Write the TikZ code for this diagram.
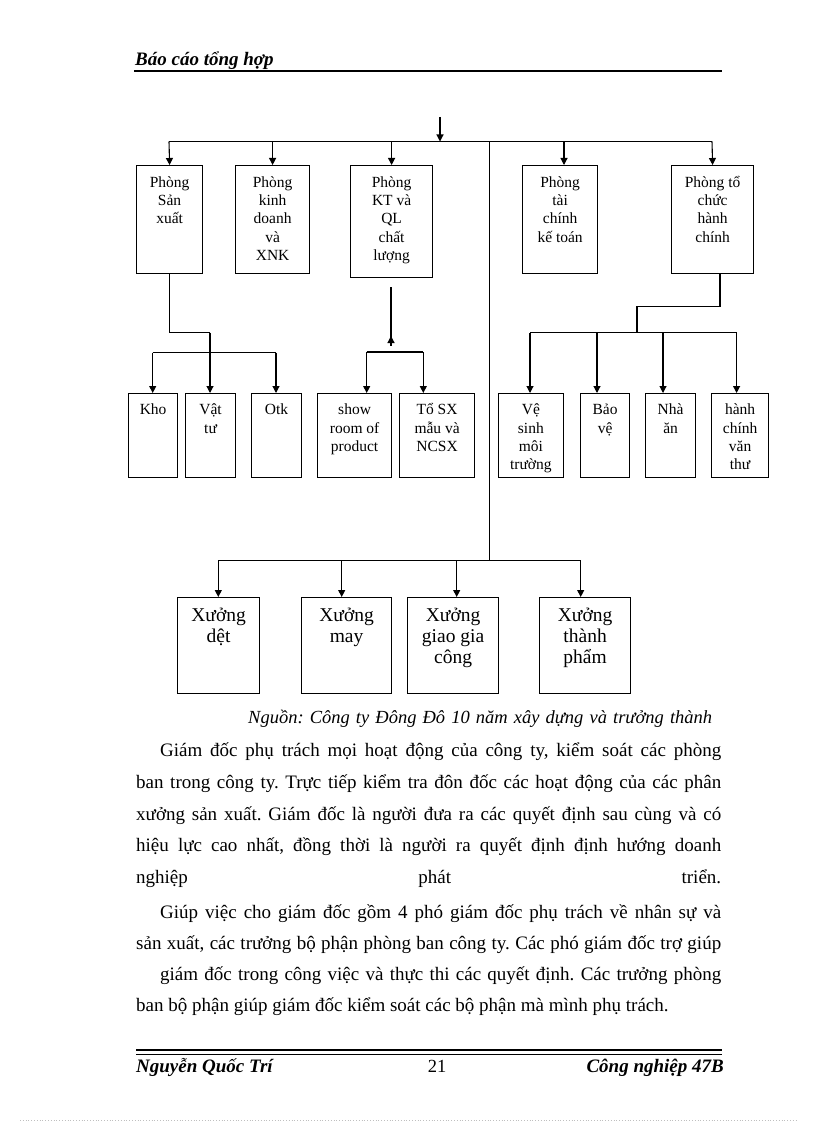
\documentclass[tikz,border=0pt]{standalone}
\usepackage{fontspec}
\setmainfont{Liberation Serif}
\usetikzlibrary{arrows.meta}
\newcommand{\flstrut}{\rule{0pt}{15pt}}
\newcommand{\flstrutbig}{\rule{0pt}{17pt}}
\frenchspacing
\begin{document}
\begin{tikzpicture}[x=1pt,y=-1pt,
  ln/.style={line width=1.1pt},
  arr/.style={line width=1.1pt,-{Triangle[length=7pt,width=7pt]}},
  bx/.style={draw,line width=1.2pt,anchor=north west,inner sep=0pt},
  bt/.style={anchor=north,inner sep=0pt,align=center,font=\fontsize{15.5}{18.3}\selectfont},
  bigt/.style={anchor=north,inner sep=0pt,align=center,font=\fontsize{19.5}{21}\selectfont},
  bl/.style={anchor=base west,inner sep=0pt,font=\fontsize{19}{32}\selectfont},
  hf/.style={inner sep=0pt,font=\bfseries\itshape\fontsize{19}{20}\selectfont},
]
\fill[white] (0,0) rectangle (816,1123);
\useasboundingbox (0,0) rectangle (816,1123);

% header
\node[hf,anchor=base west] (hdr) at (135,66) {Báo cáo tổng hợp};
\draw[line width=2pt] (134,71.5) -- (722,71.5);

% top row boxes
\node[bx,minimum width=66pt,minimum height=108pt] (A) at (136,165) {};
\node[bx,minimum width=74pt,minimum height=108pt] (B) at (235,165) {};
\node[bx,minimum width=82pt,minimum height=112pt] (C) at (350,165) {};
\node[bx,minimum width=75pt,minimum height=108pt] (D) at (522,165) {};
\node[bx,minimum width=82pt,minimum height=108pt] (E) at (671,165) {};
\node[bt] (At) at ([yshift=-7pt]A.north) {\flstrut Phòng\\Sản\\xuất};
\node[bt] (Bt) at ([yshift=-7pt]B.north) {\flstrut Phòng\\kinh\\doanh\\và\\XNK};
\node[bt] (Ct) at ([yshift=-7pt]C.north) {\flstrut Phòng\\KT và\\QL\\chất\\lượng};
\node[bt] (Dt) at ([yshift=-7pt]D.north) {\flstrut Phòng\\tài\\chính\\kế toán};
\node[bt] (Et) at ([yshift=-7pt]E.north) {\flstrut Phòng tổ\\chức\\hành\\chính};

% middle row boxes
\node[bx,minimum width=49pt,minimum height=84pt] (Kho) at (128,393) {};
\node[bx,minimum width=50pt,minimum height=84pt] (Vt) at (185,393) {};
\node[bx,minimum width=50pt,minimum height=84pt] (Otk) at (251,393) {};
\node[bx,minimum width=74pt,minimum height=84pt] (Sr) at (317,393) {};
\node[bx,minimum width=75pt,minimum height=84pt] (Tsx) at (399,393) {};
\node[bx,minimum width=65.5pt,minimum height=84pt] (Vs) at (497.5,393) {};
\node[bx,minimum width=49pt,minimum height=84pt] (Bv) at (580,393) {};
\node[bx,minimum width=50pt,minimum height=84pt] (Na) at (645,393) {};
\node[bx,minimum width=57pt,minimum height=84pt] (Hc) at (711,393) {};
\node[bt] (Khot) at ([yshift=-6.5pt]Kho.north) {\flstrut Kho};
\node[bt] (Vtt) at ([yshift=-6.5pt]Vt.north) {\flstrut Vật\\tư};
\node[bt] (Otkt) at ([yshift=-6.5pt]Otk.north) {\flstrut Otk};
\node[bt] (Srt) at ([yshift=-6.5pt]Sr.north) {\flstrut show\\room of\\product};
\node[bt] (Tsxt) at ([yshift=-6.5pt]Tsx.north) {\flstrut Tổ SX\\mẫu và\\NCSX};
\node[bt] (Vst) at ([yshift=-6.5pt]Vs.north) {\flstrut Vệ\\sinh\\môi\\trường};
\node[bt] (Bvt) at ([yshift=-6.5pt]Bv.north) {\flstrut Bảo\\vệ};
\node[bt] (Nat) at ([yshift=-6.5pt]Na.north) {\flstrut Nhà\\ăn};
\node[bt] (Hct) at ([yshift=-6.5pt]Hc.north) {\flstrut hành\\chính\\văn\\thư};

% bottom row boxes
\node[bx,minimum width=82pt,minimum height=96pt] (X1) at (177,597) {};
\node[bx,minimum width=90pt,minimum height=96pt] (X2) at (301,597) {};
\node[bx,minimum width=91pt,minimum height=96pt] (X3) at (407,597) {};
\node[bx,minimum width=91pt,minimum height=96pt] (X4) at (539,597) {};
\node[bigt] (X1t) at ([yshift=-7pt]X1.north) {\flstrutbig Xưởng\\dệt};
\node[bigt] (X2t) at ([yshift=-7pt]X2.north) {\flstrutbig Xưởng\\may};
\node[bigt] (X3t) at ([yshift=-7pt]X3.north) {\flstrutbig Xưởng\\giao gia\\công};
\node[bigt] (X4t) at ([yshift=-7pt]X4.north) {\flstrutbig Xưởng\\thành\\phẩm};

% top connectors
\coordinate (top) at (440,117);
\coordinate (hb) at (440,141.5);
\coordinate (hL) at (169,141.5);
\coordinate (hR) at (712,141.5);
\coordinate (hD) at (564,141.5);
\coordinate (vc) at (489.5,141.5);
\coordinate (vb) at (489.5,560.7);
\draw[arr] (top) -- (hb);
\draw[ln] (hL) -- (hR);
\draw[arr] (hL) -- (A.north);
\draw[arr] (B.north |- hL) -- (B.north);
\draw[arr] (C.north |- hL) -- (C.north);
\draw[arr] (hD) -- (hD |- D.north);
\draw[arr] (hR) -- (E.north);
\draw[ln] (vc) -- (vb);

% Phong San xuat branch
\coordinate (a1) at (169,332.7);
\coordinate (a2) at (210,332.7);
\coordinate (kL) at (152.7,352.5);
\coordinate (kR) at (276,352.5);
\draw[ln] (A.south) -- (A.south |- a1) -- (a2);
\draw[arr] (a2) -- (a2 |- Vt.north);
\draw[ln] (kL) -- (kR);
\draw[arr] (kL) -- (kL |- Kho.north);
\draw[arr] (kR) -- (kR |- Otk.north);

% KT branch
\coordinate (c1) at (391,287);
\coordinate (c2) at (391,346);
\coordinate (c3) at (391,336);
\coordinate (sL) at (366.7,352);
\coordinate (sR) at (423.3,352);
\draw[ln] (c1) -- (c2);
\draw[arr] (c2) -- (c3);
\draw[ln] (sL) -- (sR);
\draw[arr] (sL) -- (sL |- Sr.north);
\draw[arr] (sR) -- (sR |- Tsx.north);

% To chuc branch
\coordinate (e0) at (720,273.3);
\coordinate (e1) at (720,306.7);
\coordinate (e2) at (637,306.7);
\coordinate (e3) at (637,332.7);
\coordinate (rL) at (530,332.7);
\coordinate (rR) at (736.6,332.7);
\coordinate (r2) at (597,332.7);
\coordinate (r3) at (663,332.7);
\draw[ln] (e0) -- (e1) -- (e2) -- (e3);
\draw[ln] (rL) -- (rR);
\draw[arr] (rL) -- (rL |- Vs.north);
\draw[arr] (r2) -- (r2 |- Bv.north);
\draw[arr] (r3) -- (r3 |- Na.north);
\draw[arr] (rR) -- (rR |- Hc.north);

% bottom branch
\coordinate (bL) at (218.3,560.7);
\coordinate (bR) at (580.7,560.7);
\coordinate (b2) at (341.7,560.7);
\coordinate (b3) at (456.7,560.7);
\draw[ln] (bL) -- (bR);
\draw[arr] (bL) -- (bL |- X1.north);
\draw[arr] (b2) -- (b2 |- X2.north);
\draw[arr] (b3) -- (b3 |- X3.north);
\draw[arr] (bR) -- (bR |- X4.north);

% caption
\node[anchor=base west,inner sep=0pt,font=\itshape\fontsize{18.5}{20}\selectfont] (cap) at (248,723)
  {\makebox[464pt][s]{Nguồn: Công ty Đông Đô 10 năm xây dựng và trưởng thành}};

% body text
\node[bl] (l1) at (160,756) {\makebox[561pt][s]{Giám đốc phụ trách mọi hoạt động của công ty, kiểm soát các phòng}};
\node[bl] (l2) at (136,788) {\makebox[585pt][s]{ban trong công ty. Trực tiếp kiểm tra đôn đốc các hoạt động của các phân}};
\node[bl] (l3) at (136,820) {\makebox[585pt][s]{xưởng sản xuất. Giám đốc là người đưa ra các quyết định sau cùng và có}};
\node[bl] (l4) at (136,851) {\makebox[585pt][s]{hiệu lực cao nhất, đồng thời là người ra quyết định định hướng doanh}};
\node[bl] (l5) at (136,883) {\makebox[585pt][s]{nghiệp phát triển.}};
\node[bl] (l6) at (160,918) {\makebox[561pt][s]{Giúp việc cho giám đốc gồm 4 phó giám đốc phụ trách về nhân sự và}};
\node[bl] (l7) at (136,949) {\makebox[585pt][s]{sản xuất, các trưởng bộ phận phòng ban công ty. Các phó giám đốc trợ giúp}};
\node[bl] (l8) at (160,980) {\makebox[561pt][s]{giám đốc trong công việc và thực thi các quyết định. Các trưởng phòng}};
\node[bl] (l9) at (136,1011) {ban bộ phận giúp giám đốc kiểm soát các bộ phận mà mình phụ trách.};

% footer
\draw[line width=2pt] (136,1050) -- (722,1050);
\draw[line width=0.8pt] (136,1054) -- (722,1054);
\node[hf,anchor=base west] (fl) at (136,1072) {Nguyễn Quốc Trí};
\node[anchor=base,inner sep=0pt,font=\fontsize{18.5}{20}\selectfont] (fc) at (437,1072) {21};
\node[hf,anchor=base east] (fr) at (724,1072) {Công nghiệp 47B};

\draw[gray!50,dotted,line width=0.8pt] (20,1120) -- (796,1120);
\end{tikzpicture}
\end{document}
